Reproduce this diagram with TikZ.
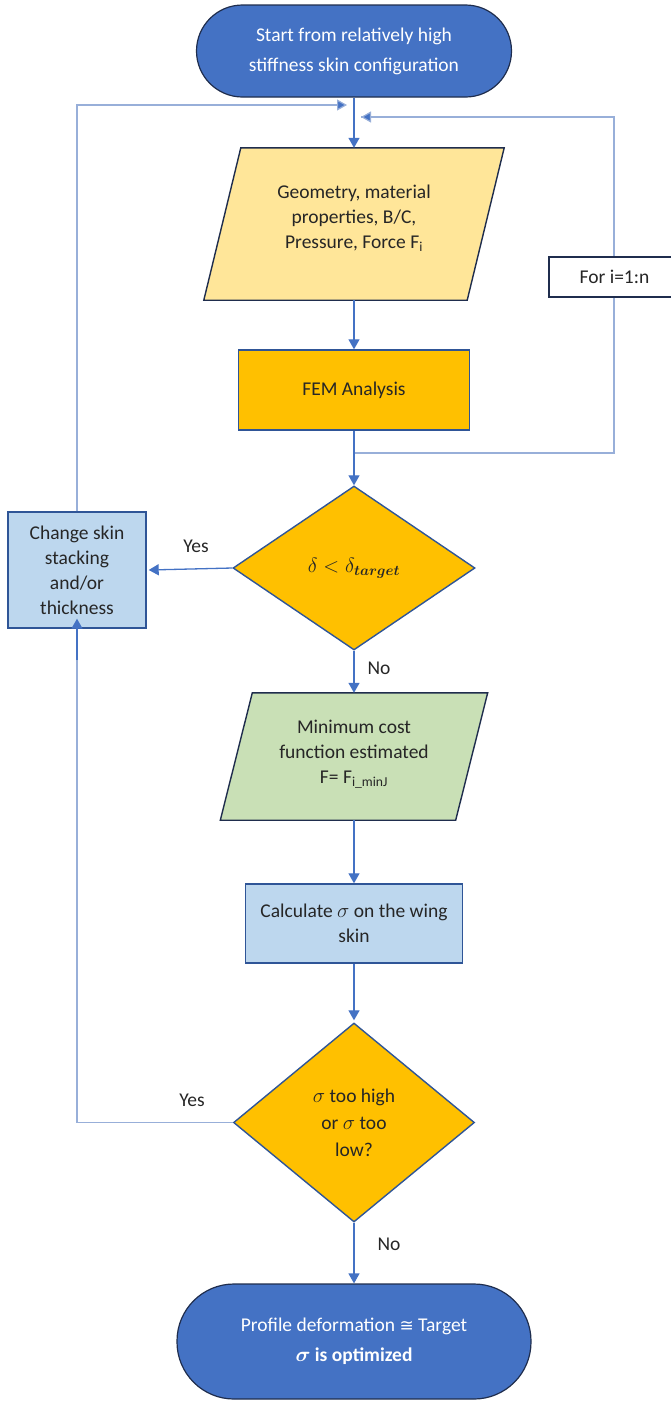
\documentclass[tikz,border=0pt]{standalone}
\usepackage{amsmath}
\usepackage{fontspec}
\setmainfont{Carlito}
\newfontfamily\symbolfont{DejaVu Sans}
\usetikzlibrary{shapes.geometric,arrows.meta,backgrounds}
\definecolor{termblue}{HTML}{4472C4}
\definecolor{termedge}{HTML}{1F2D4D}
\definecolor{flowblue}{HTML}{4472C4}
\definecolor{loopblue}{HTML}{98AFD9}
\definecolor{inyellow}{HTML}{FFE699}
\definecolor{procorange}{HTML}{FFC000}
\definecolor{lightblue}{HTML}{BDD7EE}
\definecolor{boxedge}{HTML}{2F5597}
\definecolor{ingreen}{HTML}{C9E0B6}
\definecolor{txt}{HTML}{262626}
\begin{document}
\begin{tikzpicture}[x=1pt,y=-1pt,
  every node/.style={font=\fontsize{19.5}{25}\selectfont, text=txt, inner sep=0pt},
  term/.style={rectangle, fill=termblue, draw=termedge, line width=1.2pt, align=center, text=white},
  proc/.style={rectangle, draw=boxedge, line width=1.4pt, align=center},
  decide/.style={diamond, fill=procorange, draw=boxedge, line width=1.4pt, align=center},
  ioshape/.style={draw=termedge, line width=1.4pt},
  anchorbox/.style={rectangle, draw=none, align=center},
  flow/.style={draw=flowblue, line width=1.3pt, -{Triangle[length=10pt,width=11pt]}},
  loopline/.style={draw=loopblue, line width=1.2pt},
  looparrow/.style={loopline, -{Triangle[length=10pt,width=11pt,fill=flowblue]}},
  lbl/.style={font=\fontsize{19.5}{22}\selectfont}
]
\useasboundingbox (0,0) rectangle (671,1401);
\clip (0,0) rectangle (671,1401);

% terminals
\node[term, rounded corners=46pt, minimum width=315pt, minimum height=92pt,
      font=\fontsize{19.5}{30}\selectfont] (start) at (354,51)
  {Start from relatively high\\stiffness skin configuration};
\node[term, rounded corners=57pt, minimum width=354pt, minimum height=115pt,
      font=\fontsize{19.5}{30}\selectfont] (stop) at (354,1341.5)
  {Profile deformation {\symbolfont\fontsize{17}{30}\selectfont ≅} Target\\\textbf{$\boldsymbol{\sigma}$ is optimized}};

% input block
\node[anchorbox, minimum width=263pt, minimum height=152pt] (inp) at (354,224) {};
\node[align=center] at (354,218) {Geometry, material\\properties, B/C,\\Pressure, Force F\textsubscript{i}};
\begin{scope}[on background layer]
  \draw[ioshape, fill=inyellow]
    ([xshift=18.5pt]inp.north west) -- ([xshift=18.5pt]inp.north east)
    -- ([xshift=-18.5pt]inp.south east) -- ([xshift=-18.5pt]inp.south west) -- cycle;
\end{scope}

% FEM
\node[proc, fill=procorange, minimum width=231pt, minimum height=80pt] (fem) at (354,390) {FEM Analysis};

% first decision
\node[decide, minimum width=242pt, minimum height=164pt] (d1) at (354,568)
  {$\delta < \delta_{\boldsymbol{target}}$};

% change stacking
\node[proc, fill=lightblue, minimum width=138pt, minimum height=116pt] (chg) at (77,570)
  {Change skin\\stacking\\and/or\\thickness};

% cost function block
\node[anchorbox, minimum width=235pt, minimum height=127pt] (cost) at (354,756.5) {};
\node[align=center] at (354,754) {Minimum cost\\function estimated\\F= F\textsubscript{i\_minJ}};
\begin{scope}[on background layer]
  \draw[ioshape, fill=ingreen]
    ([xshift=16pt]cost.north west) -- ([xshift=16pt]cost.north east)
    -- ([xshift=-16pt]cost.south east) -- ([xshift=-16pt]cost.south west) -- cycle;
\end{scope}

% stress
\node[proc, fill=lightblue, minimum width=217pt, minimum height=79pt] (calc) at (354,923.5)
  {Calculate $\sigma$ on the wing\\skin};

% second decision
\node[decide, minimum width=241pt, minimum height=199pt, font=\fontsize{19.5}{27}\selectfont] (d2) at (354,1122.5)
  {$\sigma$ too high\\or $\sigma$ too\\low?};

% junction points on the main line
\coordinate (jL) at (347,105);
\coordinate (jR) at (361,117);
\coordinate (jF) at (354,453);

% inner loop over load cases
\draw[loopline] (jF) -| (614,117) -- (jR);
\draw[looparrow] (614,117) -- (jR);
\node[rectangle, draw=termedge, line width=1.4pt, fill=white, minimum width=131pt, minimum height=40pt] (forbox) at (614.5,277) {For i=1:n};

% outer loop back to the start
\draw[looparrow] (chg.north) |- (jL);

% main flow
\draw[flow] (start.south) -- (inp.north);
\draw[flow] (inp.south) -- (fem.north);
\draw[flow] (fem.south) -- (d1.north);
\draw[flow] (d1.west) -- ([xshift=2pt]chg.east);
\draw[flow] (d1.south) -- (cost.north);
\draw[flow] (cost.south) -- (calc.north);
\draw[flow, shorten >=2pt] (calc.south) -- (d2.north);
\draw[flow] (d2.south) -- (stop.north);
\draw[loopline] (d2.west) -| (77,660);
\draw[flow] (77,660) -- ([yshift=10pt]chg.south);

% branch labels
\node[lbl] at (196,546) {Yes};
\node[lbl] at (379,668) {No};
\node[lbl] at (192,1100) {Yes};
\node[lbl] at (389,1244) {No};
\end{tikzpicture}
\end{document}
